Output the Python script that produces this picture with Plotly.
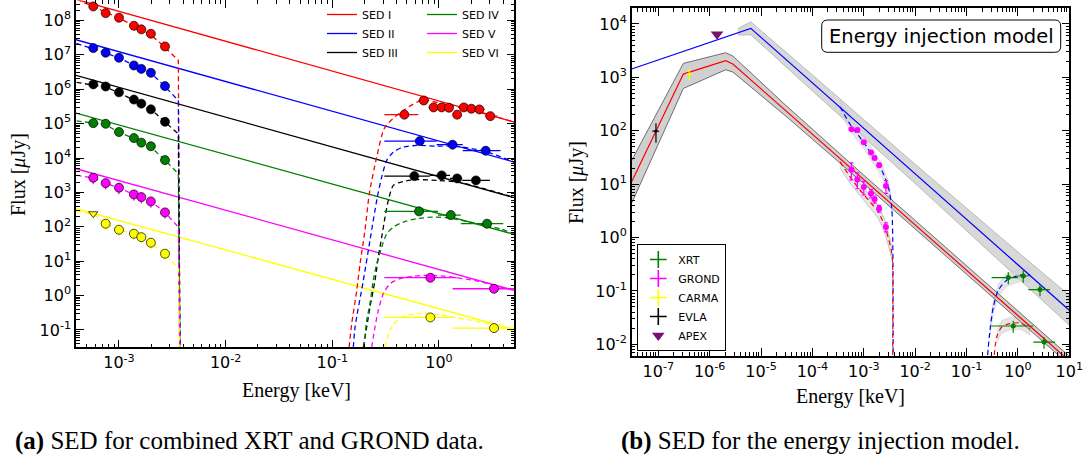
import plotly.graph_objects as go

# ======================= Panel (a): SED for combined XRT and GROND data =======================
sed_names = ["SED I", "SED II", "SED III", "SED IV", "SED V", "SED VI"]
sed_colors = ["#ff0000", "#0000ff", "#000000", "#008000", "#ff00ff", "#ffff00"]

# unabsorbed power-law model lines (flux at the two ends of the energy axis)
pl_E = [3.95e-4, 5.08]
pl_F_lo = [4.11e8, 2.75e7, 2.52e6, 2.02e5, 4.89e3, 336]
pl_F_hi = [1.104e5, 7.60e3, 702, 60.1, 1.416, 0.104]

# GROND band energies (keV) and fluxes (uJy)
grond_E = [5.74e-4, 7.5e-4, 1.0e-3, 1.38e-3, 1.62e-3, 1.99e-3, 2.7e-3]
grond_F = [
    [2.55e8, 1.63e8, 1.2e8, 7.0e7, 5.5e7, 4.1e7, 1.75e7],
    [1.57e7, 1.15e7, 8.2e6, 4.9e6, 3.9e6, 3.0e6, 1.23e6],
    [1.38e6, 1.2e6, 8.1e5, 5.0e5, 3.8e5, 2.6e5, 1.13e5],
    [1.03e5, 9.9e4, 5.7e4, 3.8e4, 2.8e4, 2.2e4, 8.7e3],
    [2.67e3, 1.86e3, 1.37e3, 875, 730, 547, 262],
    [None, 123, 82, 63, 50, 34.5, 16.5],
]
grond_err_pct = [0, 0, 0, 0, 35, 35]
grond_ul_E = [5.74e-4]
grond_ul_F = [240]

# absorbed optical model (dashed), ends in the Lyman break
opt_model_E = [4.0e-4, 5.74e-4, 7.5e-4, 1.0e-3, 1.38e-3, 1.62e-3, 1.99e-3, 2.7e-3, 3.6e-3, 3.75e-3]
opt_model_F = [
    [4.17e8, 2.57e8, 1.70e8, 1.17e8, 7.08e7, 5.37e7, 3.80e7, 1.66e7, 6.92e6, 1e-3],
    [2.14e7, 1.51e7, 1.12e7, 8.13e6, 4.90e6, 3.89e6, 2.95e6, 1.20e6, 4.68e5, 1e-3],
    [1.58e6, 1.32e6, 1.15e6, 7.94e5, 4.90e5, 3.72e5, 2.63e5, 1.12e5, 5.0e4, 1e-3],
    [1.20e5, 1.02e5, 9.3e4, 5.6e4, 3.7e4, 2.8e4, 2.1e4, 8.7e3, 3.5e3, 1e-3],
    [3.16e3, 2.63e3, 1.86e3, 1.35e3, 870, 724, 550, 263, 98, 1e-3],
    [282, 234, 120, 81, 63, 50, 35, 16.6, 6.0, 1e-3],
]

# XRT data: energy, flux, energy-bin edges
xrt_E = [
    [0.473, 0.72, 0.89, 1.06, 1.24, 1.48, 1.71, 2.01, 2.39, 3.03],
    [0.66, 1.34, 2.74],
    [0.587, 1.06, 1.48, 2.22],
    [0.65, 1.29, 2.82],
    [0.83, 3.28],
    [0.83, 3.28],
]
xrt_F = [
    [1.82e5, 4.7e5, 2.96e5, 2.96e5, 2.9e5, 1.82e5, 2.96e5, 2.71e5, 2.59e5, 1.65e5],
    [3.1e4, 2.44e4, 1.63e4],
    [2.98e3, 3.12e3, 2.55e3, 2.23e3],
    [281, 219, 123],
    [3.31, 1.58],
    [0.232, 0.1135],
]
xrt_lo = [
    [0.307, 0.64, 0.80, 0.97, 1.15, 1.36, 1.58, 1.85, 2.19, 2.69],
    [0.307, 0.95, 1.67],
    [0.307, 0.82, 1.27, 1.65],
    [0.307, 0.98, 1.6],
    [0.307, 1.34],
    [0.307, 1.34],
]
xrt_hi = [
    [0.64, 0.80, 0.97, 1.15, 1.36, 1.58, 1.85, 2.19, 2.69, 3.55],
    [0.95, 1.67, 3.78],
    [0.82, 1.27, 1.65, 3.0],
    [0.98, 1.6, 4.0],
    [1.47, 5.1],
    [1.32, 5.1],
]

# absorbed X-ray model (dashed)
xmod_E = [
    [0.1435, 0.152, 0.1694, 0.182, 0.2023, 0.2223, 0.2606, 0.3119, 0.4624, 0.7129, 1.0, 1.585, 2.512, 5.08],
    [0.1574, 0.1633, 0.1954, 0.2254, 0.2642, 0.2904, 0.3236, 0.3733, 0.4624, 0.618, 0.9506, 1.361, 2.57, 5.08],
    [0.1954, 0.2099, 0.2254, 0.2512, 0.2698, 0.2904, 0.3119, 0.3350, 0.3733, 0.4624, 0.618, 0.9506, 1.574, 2.698, 5.08],
    [0.1982, 0.2099, 0.2254, 0.2421, 0.2606, 0.2904, 0.3236, 0.3733, 0.4624, 0.618, 0.885, 1.268, 1.954, 3.733, 5.08],
    [0.2339, 0.2512, 0.2698, 0.3006, 0.3475, 0.4305, 0.5741, 0.7674, 1.096, 1.466, 2.239, 3.548, 5.08],
    [0.3119, 0.3475, 0.4018, 0.4977, 0.6637, 0.9506, 1.361, 2.239, 3.548, 5.08],
]
xmod_F = [
    [0.0316, 0.152, 1.42, 8.45, 78.5, 916, 1.06e4, 7.91e4, 2.42e5, 4.95e5, 3.98e5, 2.95e5, 2.09e5, 1.10e5],
    [0.0316, 0.121, 2.77, 40.3, 729, 2786, 8511, 1.486e4, 2.075e4, 2.323e4, 2.218e4, 2.218e4, 1.63e4, 7.59e3],
    [0.0316, 0.121, 0.463, 2.77, 13.2, 50.1, 191, 585, 1596, 2089, 2339, 2234, 1950, 1259, 708],
    [0.0316, 0.19, 0.581, 2.767, 8.45, 25.7, 63.1, 97.9, 137, 171.8, 191.4, 179, 137, 88.1, 60.3],
    [0.0316, 0.1213, 0.3715, 1.135, 2.218, 3.097, 3.69, 3.864, 3.69, 3.311, 2.692, 1.862, 1.413],
    [0.0316, 0.0973, 0.1901, 0.2655, 0.2979, 0.2838, 0.2371, 0.182, 0.1259, 0.0933],
]

# ======================= Panel (b): energy injection model =======================
blue_mod_E = [3.03e-8, 6.30e-6, 10.0]
blue_mod_F = [1432, 8299, 0.0434]
blue_band_E = [3.55e-6, 6.30e-6, 1e-4, 1e-2, 1.0, 10.0]
blue_band_hi = [8185, 10940, 1112, 23.55, 0.5346, 0.0826]
blue_band_lo = [6209, 6295, 557, 10.28, 0.177, 0.02275]

red_mod_E = [3.03e-8, 3.07e-7, 2.05e-6, 2.82e-6, 10.0]
red_mod_F = [11.04, 1153, 2051, 1778, 0.00488]
red_band_E = [3.03e-8, 3.07e-7, 2.05e-6, 2.82e-6, 3.16e-5, 1e-3, 1.0, 10.0]
red_band_hi = [27.7, 1828, 2897, 2512, 288.4, 14.72, 0.04207, 0.00597]
red_band_lo = [4.40, 619.4, 1387, 1259, 182.0, 10.19, 0.02911, 0.00413]

b_opt_E = [3.44e-4, 5.81e-4, 9.77e-4, 1.531e-3, 2.228e-3, 3.0e-3, 3.49e-3, 3.66e-3, 3.72e-3]
b_opt_F = [281.2, 118.6, 62.1, 32.5, 18.3, 8.89, 3.75, 0.891, 1e-3]
r_opt_E = [3.44e-4, 5.40e-4, 8.45e-4, 1.321e-3, 1.914e-3, 2.588e-3, 3.43e-3, 3.62e-3, 3.62e-3]
r_opt_F = [26.2, 13.7, 7.71, 4.66, 3.02, 1.58, 0.578, 0.35, 1e-3]

b_x_E = [0.24, 0.2858, 0.3319, 0.415, 0.6053, 1.099, 1.483, 1.718]
b_x_F = [0.003, 0.01828, 0.05, 0.1028, 0.1585, 0.1968, 0.2028, 0.194]
r_x_E = [0.325, 0.3864, 0.4831, 0.7015, 1.099, 1.718]
r_x_F = [0.003, 0.01371, 0.02109, 0.02443, 0.02512, 0.01968]
band_dex = 0.12

xrt_b_E = [0.65, 1.27, 2.69]
xrt_b_F = [0.178, 0.19, 0.106]
xrt_b_lo = [0.308, 0.95, 1.59]
xrt_b_hi = [1.0, 1.59, 4.2]
xrt_r_E = [0.81, 3.22]
xrt_r_F = [0.022, 0.011]
xrt_r_lo = [0.308, 1.99]
xrt_r_hi = [1.99, 5.27]

grond2_E = [5.74e-4, 7.5e-4, 1.0e-3, 1.38e-3, 1.62e-3, 1.99e-3, 2.7e-3]
grond2_b_F = [107, 103, 61, 39, 31, 22.7, 9.2]
grond2_b_err = [4, 4, 3, 2, 2, 2, 2.5]
grond2_r_F = [18.5, 12.2, 8.8, 6.7, 5.2, 3.5, 1.58]
grond2_r_err = [6.5, 4.0, 2.5, 1.2, 0.8, 0.5, 0.3]

evla_E, evla_F, evla_err = [9.0e-8], [98.6], [39]
carma_E, carma_F, carma_err = [4.0e-7], [1150], [290]
apex_E, apex_F = [1.39e-6], [6400]

# ======================= figure =======================
W, H = 1089, 469
fig = go.Figure()
A = dict(xaxis="x", yaxis="y")
B = dict(xaxis="x2", yaxis="y2")
DASH = "5px,3.5px"

# ---- panel (a) ----
for i in range(6):
    c = sed_colors[i]
    fig.add_trace(go.Scatter(x=pl_E, y=[pl_F_lo[i], pl_F_hi[i]], mode="lines",
                             line=dict(color=c, width=1.3), name=sed_names[i],
                             legend="legend" if i < 3 else "legend3", **A))
for i in range(6):
    c = sed_colors[i]
    fig.add_trace(go.Scatter(x=opt_model_E, y=opt_model_F[i], mode="lines",
                             line=dict(color=c, width=1.3, dash=DASH), showlegend=False, **A))
    fig.add_trace(go.Scatter(x=xmod_E[i], y=xmod_F[i], mode="lines",
                             line=dict(color=c, width=1.3, dash=DASH, shape="spline", smoothing=0.7),
                             showlegend=False, **A))
for i in range(6):
    c = sed_colors[i]
    fig.add_trace(go.Scatter(x=grond_E, y=grond_F[i], mode="markers",
                             error_y=dict(type="percent", value=grond_err_pct[i], color=c,
                                          thickness=1.2, width=0, visible=grond_err_pct[i] > 0),
                             marker=dict(color=c, size=9, line=dict(color="black", width=0.7)),
                             showlegend=False, **A))
    ep = [h - e for h, e in zip(xrt_hi[i], xrt_E[i])]
    em = [e - l for e, l in zip(xrt_E[i], xrt_lo[i])]
    fig.add_trace(go.Scatter(x=xrt_E[i], y=xrt_F[i], mode="markers",
                             error_x=dict(type="data", symmetric=False, array=ep, arrayminus=em,
                                          color=c, thickness=1.3, width=0),
                             marker=dict(color=c, size=9, line=dict(color="black", width=0.7)),
                             showlegend=False, **A))
fig.add_trace(go.Scatter(x=grond_ul_E, y=grond_ul_F, mode="markers",
                         marker=dict(symbol="triangle-down", color=sed_colors[5], size=8,
                                     line=dict(color="black", width=0.7)), showlegend=False, **A))

# ---- panel (b) ----
def band(E, hi, lo, fill, edge, ew):
    fig.add_trace(go.Scatter(x=E + E[::-1], y=hi + lo[::-1], mode="lines", fill="toself",
                             fillcolor=fill, line=dict(color=edge, width=ew),
                             showlegend=False, hoverinfo="skip", **B))

band(blue_band_E, blue_band_hi, blue_band_lo, "rgba(200,200,200,0.7)", "rgba(175,175,175,1)", 0.8)
band(b_opt_E[:7], [f * 10 ** band_dex for f in b_opt_F[:7]], [f / 10 ** band_dex for f in b_opt_F[:7]],
     "rgba(210,210,210,0.5)", "rgba(190,190,190,0.6)", 0.6)
band(r_opt_E[:7], [f * 10 ** band_dex for f in r_opt_F[:7]], [f / 10 ** band_dex for f in r_opt_F[:7]],
     "rgba(210,210,210,0.5)", "rgba(150,150,150,0.8)", 0.6)
band(b_x_E[1:], [f * 10 ** band_dex for f in b_x_F[1:]], [f / 10 ** band_dex for f in b_x_F[1:]],
     "rgba(210,210,210,0.6)", "rgba(190,190,190,0.6)", 0.6)
band(r_x_E[1:], [f * 10 ** band_dex for f in r_x_F[1:]], [f / 10 ** band_dex for f in r_x_F[1:]],
     "rgba(210,210,210,0.6)", "rgba(190,190,190,0.6)", 0.6)
band(red_band_E, red_band_hi, red_band_lo, "rgba(200,200,200,0.85)", "#6e6e6e", 1.0)

fig.add_trace(go.Scatter(x=blue_mod_E, y=blue_mod_F, mode="lines", line=dict(color="#0000ff", width=1.2),
                         showlegend=False, **B))
fig.add_trace(go.Scatter(x=red_mod_E, y=red_mod_F, mode="lines", line=dict(color="#ff0000", width=1.2),
                         showlegend=False, **B))
for E, F, c in [(b_opt_E, b_opt_F, "#0000ff"), (r_opt_E, r_opt_F, "#ff0000"),
                (b_x_E, b_x_F, "#0000ff"), (r_x_E, r_x_F, "#ff0000")]:
    fig.add_trace(go.Scatter(x=E, y=F, mode="lines",
                             line=dict(color=c, width=1.2, dash=DASH, shape="spline", smoothing=0.7),
                             showlegend=False, **B))

for E, F, lo, hi in [(xrt_b_E, xrt_b_F, xrt_b_lo, xrt_b_hi), (xrt_r_E, xrt_r_F, xrt_r_lo, xrt_r_hi)]:
    fig.add_trace(go.Scatter(x=E, y=F, mode="markers",
                             error_x=dict(type="data", symmetric=False,
                                          array=[h - e for h, e in zip(hi, E)],
                                          arrayminus=[e - l for e, l in zip(E, lo)],
                                          color="#008000", thickness=1.2, width=0),
                             error_y=dict(type="percent", value=25, color="#008000", thickness=1.2, width=0),
                             marker=dict(color="#008000", size=5), showlegend=False, **B))
for F, err in [(grond2_b_F, grond2_b_err), (grond2_r_F, grond2_r_err)]:
    fig.add_trace(go.Scatter(x=grond2_E, y=F, mode="markers",
                             error_y=dict(type="data", array=err, color="#ff00ff", thickness=1.2, width=2),
                             marker=dict(color="#ff00ff", size=6), showlegend=False, **B))
fig.add_trace(go.Scatter(x=evla_E, y=evla_F, mode="markers",
                         error_y=dict(type="data", array=evla_err, color="black", thickness=1.2, width=0),
                         error_x=dict(type="percent", value=15, color="black", thickness=1.2, width=0),
                         marker=dict(color="black", size=3), showlegend=False, **B))
fig.add_trace(go.Scatter(x=carma_E, y=carma_F, mode="markers",
                         error_y=dict(type="data", array=carma_err, color="#ffff00", thickness=1.2, width=0),
                         error_x=dict(type="percent", value=12, color="#ffff00", thickness=1.2, width=0),
                         marker=dict(color="#ffff00", size=3), showlegend=False, **B))
fig.add_trace(go.Scatter(x=apex_E, y=apex_F, mode="markers",
                         marker=dict(symbol="triangle-down", color="#7b1071", size=11), showlegend=False, **B))

# legend entries for panel (b)
for name, c, sym in [("XRT", "#008000", "cross-thin"), ("GROND", "#ff00ff", "cross-thin"),
                     ("CARMA", "#ffff00", "cross-thin"), ("EVLA", "black", "cross-thin"),
                     ("APEX", "#7b1071", "triangle-down")]:
    fig.add_trace(go.Scatter(x=[None], y=[None], mode="markers", name=name, legend="legend2",
                             marker=dict(symbol=sym, color=c, size=12 if sym != "triangle-down" else 11,
                                         line=dict(color=c, width=1.6 if sym != "triangle-down" else 0)),
                             **B))

# ---- axes ----
def minors(e0, e1):
    return [m * 10.0 ** e for e in range(e0, e1 + 1) for m in range(2, 10)]

def log_axis(rng, majors, domain, anchor, minor_vals):
    return dict(type="log", range=rng, domain=domain, anchor=anchor,
                tickmode="array", tickvals=[10.0 ** e for e in majors],
                ticktext=[f"10<sup>{e}</sup>" for e in majors],
                ticks="inside", ticklen=8, tickwidth=1.4, tickcolor="black",
                showline=True, linecolor="black", linewidth=1.5, mirror="ticks",
                showgrid=False, zeroline=False, automargin=False,
                tickfont=dict(family="DejaVu Sans", size=16, color="black"),
                minor=dict(tickmode="array", tickvals=minor_vals, ticks="inside", ticklen=4,
                           tickwidth=1, tickcolor="black", showgrid=False))

leg_font = dict(family="DejaVu Sans", size=11, color="black")
fig.update_layout(
    width=W, height=H, margin=dict(l=0, r=0, t=0, b=0),
    paper_bgcolor="white", plot_bgcolor="white",
    xaxis=log_axis([-3.403, 0.706], [-3, -2, -1, 0], [76 / W, 514.3 / W], "y", minors(-4, 0)),
    yaxis=log_axis([-1.503, 8.58], list(range(-1, 9)), [1 - 347.3 / H, 0.999], "x", minors(-2, 8)),
    xaxis2=log_axis([-7.518, 1.0], list(range(-7, 2)), [631.7 / W, 1069.3 / W], "y2", minors(-8, 0)),
    yaxis2=log_axis([-2.214, 4.294], list(range(-2, 5)), [1 - 355.7 / H, 1 - 8.3 / H], "x2", minors(-3, 4)),
    legend=dict(x=322 / W, y=1, xanchor="left", yanchor="top", bgcolor="rgba(0,0,0,0)",
                font=leg_font, tracegroupgap=0, itemwidth=30),
    legend3=dict(x=422 / W, y=1, xanchor="left", yanchor="top", bgcolor="rgba(0,0,0,0)",
                 font=leg_font, tracegroupgap=0, itemwidth=30),
    legend2=dict(x=637.3 / W, y=1 - 351 / H, xanchor="left", yanchor="bottom", bgcolor="white",
                 bordercolor="black", borderwidth=1, font=leg_font, tracegroupgap=0, itemwidth=30),
    showlegend=True,
)

# rounded frame of the model label (panel b)
bx0, bx1, by0, by1, r = 821.7, 1060.7, 20.0, 52.3, 6.0
px = lambda v: v / W
py = lambda v: 1 - v / H
path = (f"M {px(bx0 + r)},{py(by0)} L {px(bx1 - r)},{py(by0)} Q {px(bx1)},{py(by0)} {px(bx1)},{py(by0 + r)} "
        f"L {px(bx1)},{py(by1 - r)} Q {px(bx1)},{py(by1)} {px(bx1 - r)},{py(by1)} "
        f"L {px(bx0 + r)},{py(by1)} Q {px(bx0)},{py(by1)} {px(bx0)},{py(by1 - r)} "
        f"L {px(bx0)},{py(by0 + r)} Q {px(bx0)},{py(by0)} {px(bx0 + r)},{py(by0)} Z")
fig.add_shape(type="path", path=path, xref="paper", yref="paper",
              line=dict(color="black", width=1), fillcolor="white", layer="above")

serif = "Liberation Serif"
ann = [
    dict(text="Flux [<i>μ</i>Jy]", x=19 / W, y=1 - 175 / H, textangle=-90, font=dict(family=serif, size=20)),
    dict(text="Energy [keV]", x=296 / W, y=1 - 390 / H, font=dict(family=serif, size=20)),
    dict(text="Flux [<i>μ</i>Jy]", x=577 / W, y=1 - 183 / H, textangle=-90, font=dict(family=serif, size=20)),
    dict(text="Energy [keV]", x=850 / W, y=1 - 396 / H, font=dict(family=serif, size=20)),
    dict(text="<b>(a)</b> SED for combined XRT and GROND data.", x=249 / W, y=1 - 441 / H,
         font=dict(family=serif, size=25)),
    dict(text="<b>(b)</b> SED for the energy injection model.", x=820 / W, y=1 - 441 / H,
         font=dict(family=serif, size=25)),
    dict(text="Energy injection model", x=941.2 / W, y=1 - 36.5 / H, font=dict(family="DejaVu Sans", size=19.5)),
]
for a in ann:
    a["font"]["color"] = "black"
    fig.add_annotation(xref="paper", yref="paper", showarrow=False, xanchor="center", yanchor="middle", **a)

fig.write_html("out.html", config={"displayModeBar": False},
               post_script="document.body.style.margin='0px';")
